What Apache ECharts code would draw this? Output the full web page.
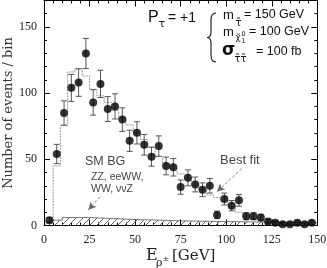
<!DOCTYPE html>
<html><head><meta charset="utf-8">
<script src="https://cdn.jsdelivr.net/npm/echarts@6/dist/echarts.min.js"></script>
<style>html,body{margin:0;padding:0;background:#fff}#c{width:327px;height:268px}</style>
</head><body><div id="c"></div>
<script>
// ---- data ----
const xTickLabels = [0, 25, 50, 75, 100, 125, 150];
const yTickLabels = [0, 50, 100, 150];
const dataX = [3,7,11,15,19,23,27,31,35,39,43,47,51,55,59,63,67,71,75,79,83,87,91,95,99,103,107,111,115,119,123,127,131,135,139,143,147];
const dataY = [4,54,85,104,108,130,93,107,88,90,80,64,70,61,52,60,45,44,29,36,31,27,30,8,20,15,19,7,7,6,3,2,1,1,2,1,2];
const dataErr = [2,7.3,9.2,10.2,10.4,11.4,9.6,10.3,9.4,9.5,8.9,8,8.4,7.8,7.2,7.7,6.7,6.6,5.4,6,5.6,5.2,5.5,2.8,4.5,3.9,4.4,2.6,2.6,2.4,1.7,1.4,1,1,1.4,1,1.4];
const fitEdges = [1,5,9,13,17,21,25,29,33,37,41,45,49,53,57,61,65,69,73,77,81,85,89,93,97,101,105,109,113,117,121,125,129,133,137,141,145,149];
const fitVals = [3,45,75.5,116,118.5,113,103,98,93,87,81,76,70,65,59,52,47,43,39,35.5,30.5,27,23,21,18,14.5,10,7,5,3.5,2,1,0.5,0.5,0.3,0.2,0.2];
const bgEdges = [3,10,25,50,65,75,150];
const bgVals = [4,6,4.5,4,3.5,2];

// ---- build step lines ----
function stepData(edges, vals) {
  const d = [[edges[0], 0]];
  vals.forEach((v, i) => d.push([edges[i], v]));
  d.push([edges[edges.length - 1], vals[vals.length - 1]]);
  return d;
}

// hatch pattern
const pc = document.createElement('canvas');
pc.width = 7; pc.height = 7;
const g = pc.getContext('2d');
g.strokeStyle = '#555'; g.lineWidth = 0.9;
g.beginPath();
g.moveTo(0, 7); g.lineTo(7, 0);
g.moveTo(-1, 1); g.lineTo(1, -1);
g.moveTo(6, 8); g.lineTo(8, 6);
g.stroke();

const serif = '"Liberation Serif", serif';
const sans = '"Liberation Sans", Arial, sans-serif';

function xAx(pos, showLabel) {
  return {
    type: 'value', min: 0, max: 150, interval: 25, position: pos,
    axisLine: { show: true, onZero: false, lineStyle: { color: '#000', width: 1 } },
    splitLine: { show: false },
    axisTick: { show: true, inside: true, length: 6, lineStyle: { color: '#000' } },
    minorTick: { show: true, splitNumber: 5, length: 3, lineStyle: { color: '#000' } },
    axisLabel: {
      show: showLabel, margin: 8, fontFamily: serif, fontSize: 12, color: '#222',
      formatter: v => xTickLabels.includes(v) ? String(v) : ''
    }
  };
}
function yAx(pos, interval, len, showLabel, showLine) {
  return {
    type: 'value', min: 0, max: 170, interval: interval, position: pos,
    axisLine: { show: showLine, onZero: false, lineStyle: { color: '#000', width: 1 } },
    splitLine: { show: false },
    axisTick: { show: true, inside: true, length: len, lineStyle: { color: '#000' } },
    axisLabel: {
      show: showLabel, margin: 7, fontFamily: serif, fontSize: 12, color: '#222',
      formatter: v => yTickLabels.includes(v) ? String(v) : ''
    }
  };
}

function txt(x, y, text, font, fill) {
  return { type: 'text', x: x, y: y, style: { text: text, font: font, fill: fill || '#111', align: 'left', verticalAlign: 'middle' } };
}
const braceStyle = { stroke: '#111', fill: null, lineWidth: 1.1 };
function bz(x1, y1, cx, cy, x2, y2) {
  return { type: 'bezierCurve', shape: { x1: x1, y1: y1, cpx1: cx, cpy1: cy, x2: x2, y2: y2 }, style: braceStyle };
}
function ln(x1, y1, x2, y2) {
  return { type: 'line', shape: { x1: x1, y1: y1, x2: x2, y2: y2 }, style: braceStyle };
}

const yMain = yAx('left', 50, 6, true, true);
yMain.name = 'Number of events / bin';
yMain.nameLocation = 'middle';
yMain.nameRotate = 90;
yMain.nameGap = 28.5;
yMain.nameMoveOverlap = false;
yMain.nameTextStyle = { fontFamily: '"DejaVu Serif", serif', fontSize: 13, color: '#333' };

const chart = echarts.init(document.getElementById('c'), null, { renderer: 'canvas' });
chart.setOption({
  animation: false,
  grid: { left: 44, right: 9.7, top: 0.5, bottom: 42.5, containLabel: false, outerBoundsMode: 'none' },
  xAxis: [xAx('bottom', true), xAx('top', false)],
  yAxis: [
    yMain,
    yAx('left', 10, 3, false, false),
    yAx('right', 50, 6, false, true),
    yAx('right', 10, 3, false, false)
  ],
  series: [
    {
      type: 'line', step: 'end', data: stepData(bgEdges, bgVals), symbol: 'none',
      lineStyle: { color: '#555', width: 0.8 },
      areaStyle: { color: { image: pc, repeat: 'repeat' }, opacity: 1 },
      z: 1
    },
    {
      type: 'line', step: 'end', data: stepData(fitEdges, fitVals), symbol: 'none',
      lineStyle: { color: '#999', width: 1, type: [2, 1] }, z: 2
    },
    {
      type: 'custom',
      data: dataX.map((x, i) => [x, dataY[i] - dataErr[i], dataY[i] + dataErr[i]]),
      encode: { x: 0, y: [1, 2] },
      renderItem: (params, api) => {
        const x = api.value(0);
        const p1 = api.coord([x, api.value(1)]);
        const p2 = api.coord([x, api.value(2)]);
        const w = 3;
        const st = { stroke: '#555', lineWidth: 1 };
        return {
          type: 'group', children: [
            { type: 'line', shape: { x1: p1[0], y1: p1[1], x2: p2[0], y2: p2[1] }, style: st },
            { type: 'line', shape: { x1: p1[0] - w, y1: p1[1], x2: p1[0] + w, y2: p1[1] }, style: st },
            { type: 'line', shape: { x1: p2[0] - w, y1: p2[1], x2: p2[0] + w, y2: p2[1] }, style: st }
          ]
        };
      },
      z: 3
    },
    {
      type: 'scatter', data: dataX.map((x, i) => [x, dataY[i]]),
      symbol: 'circle', symbolSize: 8, itemStyle: { color: '#000' }, z: 4,
      markLine: {
        silent: true, symbol: ['none', 'arrow'], symbolSize: [6, 8],
        label: { show: false },
        lineStyle: { type: [3, 2], color: '#666', width: 0.8 },
        data: [
          [{ coord: [30.8, 21.7] }, { coord: [24.3, 11.7] }],
          [{ coord: [108.6, 43.1] }, { coord: [94.9, 25.5] }]
        ]
      }
    }
  ],
  graphic: [
    txt(146, 256, 'E', '16px "DejaVu Serif", serif', '#222'),
    txt(156, 263, 'ρ', '11px "DejaVu Serif", serif', '#222'),
    txt(162.5, 259, '±', '8px "DejaVu Serif", serif', '#222'),
    txt(172, 256, '[GeV]', '15px "DejaVu Serif", serif', '#222'),

    txt(148, 18, 'P', '16px ' + sans),
    txt(158.5, 24, 'τ', '11px "DejaVu Sans", sans-serif'),
    txt(168, 18, '= +1', '14px ' + sans),

    bz(216, 13, 211, 13, 211, 20),
    ln(211, 20, 211, 32),
    bz(211, 32, 211, 37.5, 207, 37.5),
    bz(207, 37.5, 211, 37.5, 211, 43),
    ln(211, 43, 211, 55),
    bz(211, 55, 211, 62, 216, 62),

    txt(223, 15, 'm', '13px ' + sans),
    txt(235.5, 23, 'τ̃', '10px "DejaVu Sans", sans-serif'),
    txt(244, 15, '= 150 GeV', '12.5px ' + sans),

    txt(223, 32, 'm', '13px ' + sans),
    txt(235.5, 38, 'χ̃', '9px "DejaVu Sans", sans-serif'),
    txt(241.5, 34, '0', '6.5px "DejaVu Sans", sans-serif'),
    txt(241.5, 41, '1', '6.5px "DejaVu Sans", sans-serif'),
    txt(249, 32, '= 100 GeV', '12.5px ' + sans),

    txt(222, 51, 'σ', 'bold 17px "DejaVu Sans", sans-serif'),
    txt(234.5, 59, 'τ̃τ̃', '10px "DejaVu Sans", sans-serif'),
    txt(256, 52, '= 100 fb', '12.5px ' + sans),

    txt(85, 162, 'SM BG', '12.5px ' + sans, '#444'),
    txt(91, 177, 'ZZ, eeWW,', '10.5px ' + sans, '#444'),
    txt(91, 189, 'WW, ννZ', '10.5px ' + sans, '#444'),
    txt(220, 160, 'Best fit', '13px ' + sans, '#444')
  ]
});
</script>
</body></html>
